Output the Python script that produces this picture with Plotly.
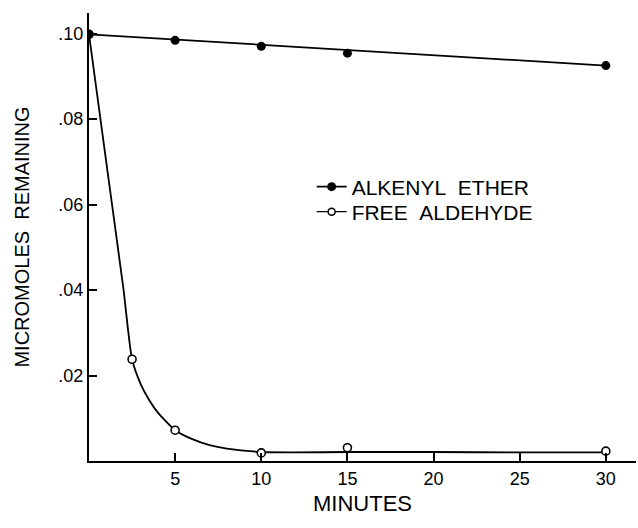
import plotly.graph_objects as go

# ---- data ----
minutes = [0, 5, 10, 15, 30]
alkenyl_ether = [0.0998, 0.0984, 0.0970, 0.0954, 0.0925]
alkenyl_fit_x = [0, 30]
alkenyl_fit_y = [0.0998, 0.0925]

aldehyde_minutes = [0, 2.5, 5, 10, 15, 30]
free_aldehyde = [0.0998, 0.0238, 0.0072, 0.0019, 0.0031, 0.0023]
aldehyde_curve_x = [0, 1, 2, 2.5, 3, 3.5, 4, 5, 6, 7, 8, 10, 12, 15, 20, 25, 30]
aldehyde_curve_y = [0.0998, 0.0700, 0.0402, 0.0238, 0.0180, 0.0142, 0.0113, 0.0072,
                    0.0051, 0.0037, 0.0029, 0.0021, 0.0020, 0.0021, 0.0021, 0.0020, 0.0020]

x_ticks = [5, 10, 15, 20, 25, 30]
x_ticktext = ["5", "10", "15", "20", "25", "30"]
y_ticks = [0.02, 0.04, 0.06, 0.08, 0.10]
y_ticktext = [".02", ".04", ".06", ".08", ".10"]

NB = "\u00a0"
name_ether = "ALKENYL" + NB + NB + "ETHER"
name_aldehyde = "FREE" + NB + NB + "ALDEHYDE"

fig = go.Figure()

# fitted lines
fig.add_trace(go.Scatter(x=alkenyl_fit_x, y=alkenyl_fit_y, mode="lines",
                         line=dict(color="black", width=1.8), showlegend=False,
                         hoverinfo="skip"))
fig.add_trace(go.Scatter(x=aldehyde_curve_x, y=aldehyde_curve_y, mode="lines",
                         line=dict(color="black", width=1.8, shape="spline", smoothing=0.6),
                         showlegend=False, hoverinfo="skip"))

# data points
fig.add_trace(go.Scatter(x=aldehyde_minutes, y=free_aldehyde, mode="markers",
                         marker=dict(symbol="circle", size=8, color="white",
                                     line=dict(color="black", width=1.6)),
                         showlegend=False))
fig.add_trace(go.Scatter(x=minutes, y=alkenyl_ether, mode="markers",
                         marker=dict(symbol="circle", size=9, color="black"),
                         showlegend=False))

# legend entries
fig.add_trace(go.Scatter(x=[None], y=[None], mode="lines+markers", name=name_ether,
                         line=dict(color="black", width=1.8),
                         marker=dict(symbol="circle", size=9, color="black"),
                         legend="legend"))
fig.add_trace(go.Scatter(x=[None], y=[None], mode="lines+markers", name=name_aldehyde,
                         line=dict(color="black", width=1.4),
                         marker=dict(symbol="circle", size=7, color="white",
                                     line=dict(color="black", width=1.5)),
                         legend="legend2"))

leg_common = dict(xanchor="left", yanchor="middle", bgcolor="rgba(0,0,0,0)",
                  font=dict(size=21), itemwidth=30)

fig.update_layout(
    width=638, height=528,
    margin=dict(l=89, r=2, t=13, b=67),
    paper_bgcolor="white", plot_bgcolor="white",
    font=dict(family="Liberation Sans, Arial, sans-serif", color="black", size=18),
    showlegend=True,
    legend=dict(x=0.407, y=0.6116, **leg_common),
    legend2=dict(x=0.407, y=0.5558, **leg_common),
    xaxis=dict(range=[0, 31.75], tickvals=x_ticks, ticktext=x_ticktext,
               ticks="inside", ticklen=8, tickwidth=1.5, tickcolor="black",
               showline=True, linecolor="black", linewidth=2, showgrid=False,
               zeroline=False, tickfont=dict(size=18), automargin=False,
               title=dict(text="MINUTES", font=dict(size=22), standoff=8)),
    yaxis=dict(range=[0, 0.1048], tickvals=y_ticks, ticktext=y_ticktext,
               ticks="inside", ticklen=8, tickwidth=1.5, tickcolor="black",
               showline=True, linecolor="black", linewidth=2, showgrid=False,
               zeroline=False, tickfont=dict(size=18), automargin=False,
               title=dict(text="MICROMOLES" + NB + NB + "REMAINING", font=dict(size=20), standoff=23)),
)

fig.write_html("out.html", config={"displayModeBar": False},
               post_script="document.body.style.margin='0';document.body.style.overflow='hidden';")
